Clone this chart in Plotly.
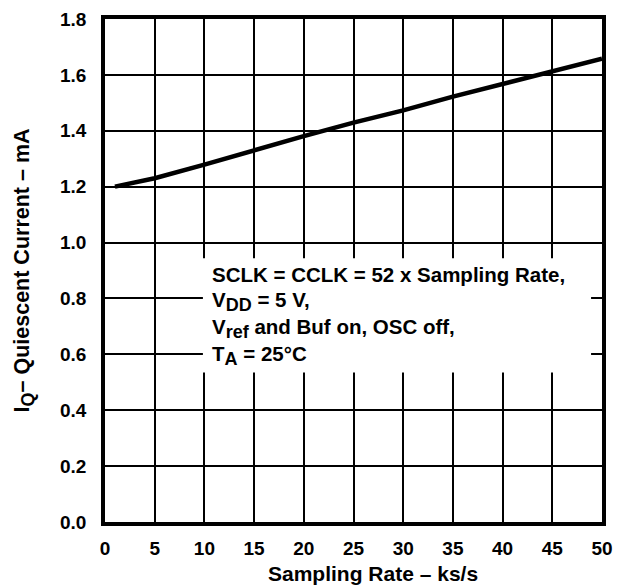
import plotly.graph_objects as go

# Data
rate_ks = [1, 5, 10, 15, 20, 25, 30, 35, 40, 45, 50]
iq_ma = [1.20, 1.23, 1.279, 1.332, 1.381, 1.429, 1.473, 1.522, 1.568, 1.612, 1.658]
x_ticks = [0, 5, 10, 15, 20, 25, 30, 35, 40, 45, 50]
y_ticks = [0.0, 0.2, 0.4, 0.6, 0.8, 1.0, 1.2, 1.4, 1.6, 1.8]
SUB = "<sub><span style='font-size:18px'>{}</span></sub>"
note_lines = [
    "SCLK = CCLK = 52 x Sampling Rate,",
    "V" + SUB.format("DD") + " = 5 V,",
    "V" + SUB.format("ref") + " and Buf on, OSC off,",
    "T" + SUB.format("A") + " = 25°C",
]
note_y = [0.887, 0.788, 0.691, 0.595]
x_title = "Sampling Rate – ks/s"
y_title = "I" + SUB.format("Q") + "– Quiescent Current – mA"

FONT = "Liberation Sans, Arial, sans-serif"

fig = go.Figure()
fig.add_trace(go.Scatter(x=rate_ks, y=iq_ma, mode="lines",
                         line=dict(color="black", width=4.5), showlegend=False))

fig.add_shape(type="rect", xref="x", yref="y", x0=9.85, x1=48.9, y0=0.535, y1=0.944,
              fillcolor="white", line=dict(width=0), layer="above")

for txt, yy in zip(note_lines, note_y):
    fig.add_annotation(x=10.6, y=yy, xref="x", yref="y", text="<b>" + txt + "</b>",
                       showarrow=False, xanchor="left", yanchor="middle",
                       font=dict(family=FONT, size=20.5, color="black"))

fig.add_annotation(x=0.539, y=-0.103, xref="paper", yref="paper", text="<b>" + x_title + "</b>",
                   showarrow=False, xanchor="center", yanchor="middle",
                   font=dict(family=FONT, size=21, color="black"))
fig.add_annotation(x=-0.163, y=0.5, xref="paper", yref="paper", text="<b>" + y_title + "</b>",
                   showarrow=False, xanchor="center", yanchor="middle", textangle=-90,
                   font=dict(family=FONT, size=21.5, color="black"))

fig.update_layout(
    width=622, height=587,
    margin=dict(l=105, r=9, t=17, b=65),
    paper_bgcolor="white", plot_bgcolor="white",
    font=dict(family=FONT, size=19, color="black"),
)
fig.update_xaxes(range=[0, 50], tickvals=x_ticks, ticktext=[str(v) for v in x_ticks],
                 showgrid=True, gridcolor="black", gridwidth=2,
                 showline=True, linecolor="black", linewidth=3.5, mirror=True,
                 zeroline=False, ticks="", ticklabelstandoff=6, ticklabeloverflow="allow",
                 tickfont=dict(family=FONT, size=19, color="black", weight="bold"))
fig.update_yaxes(range=[0, 1.8], tickvals=y_ticks, ticktext=[f"{v:.1f}" for v in y_ticks],
                 showgrid=True, gridcolor="black", gridwidth=2,
                 showline=True, linecolor="black", linewidth=3.5, mirror=True,
                 zeroline=False, ticks="", ticklabelstandoff=11,
                 tickfont=dict(family=FONT, size=19, color="black", weight="bold"))

fig.write_html("out.html", config={"displayModeBar": False},
               post_script="document.body.style.margin='0';")
